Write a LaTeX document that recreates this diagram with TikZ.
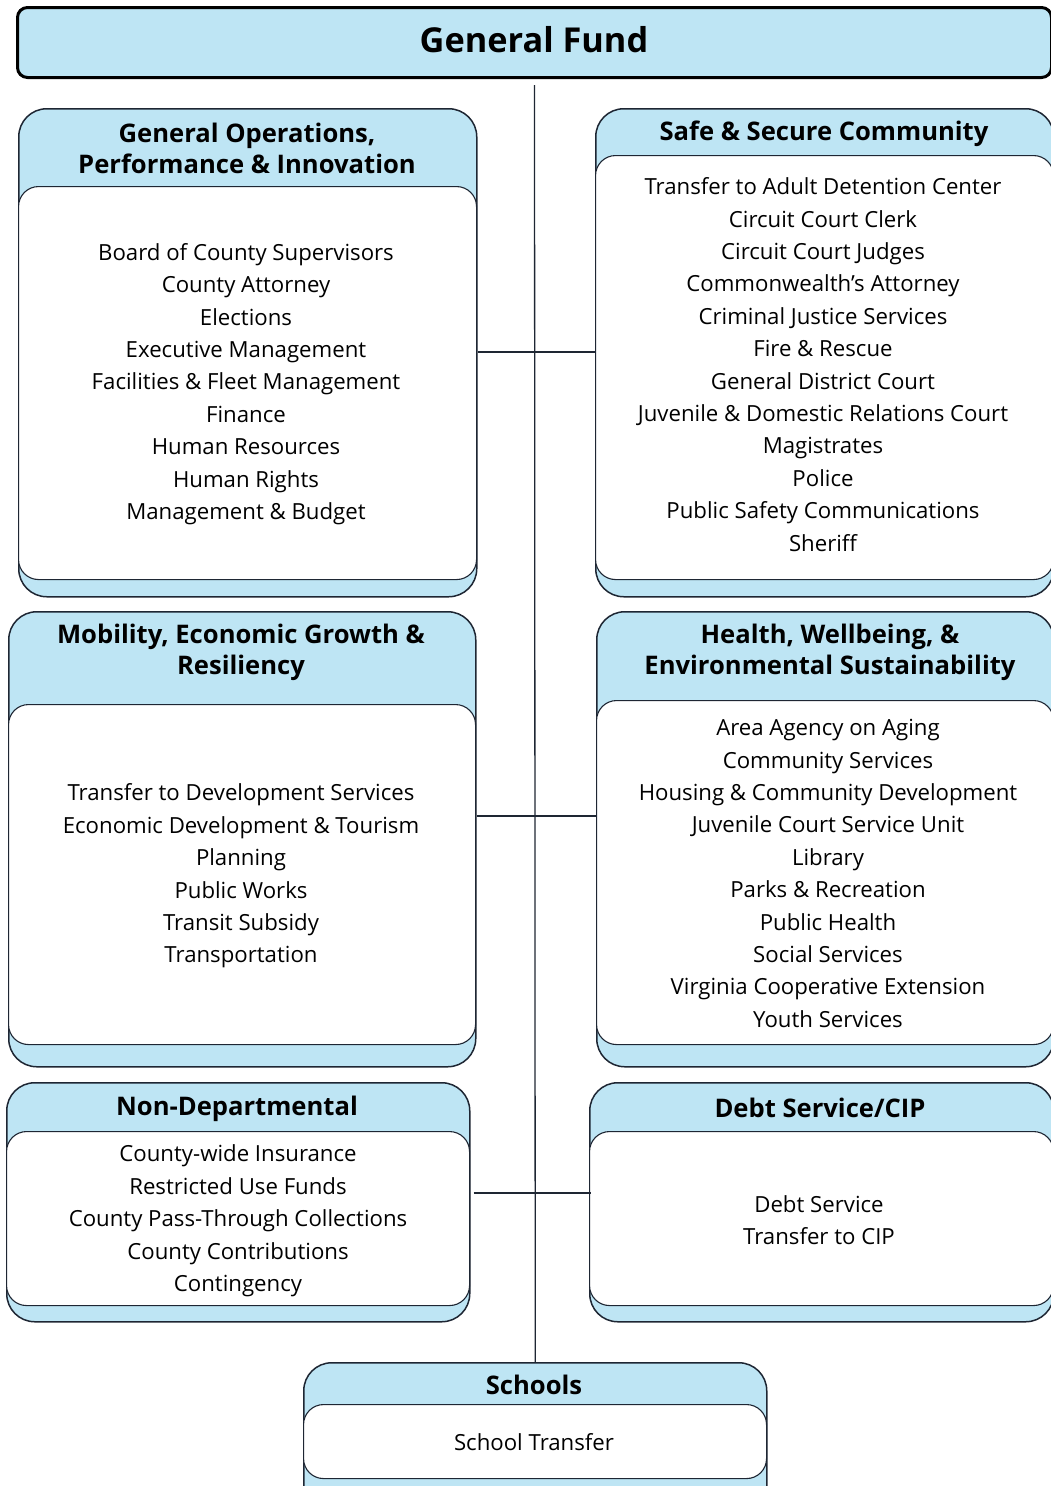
\documentclass[tikz,border=0pt]{standalone}
\usepackage{fontspec}
\setmainfont{Open Sans}
\definecolor{boxblue}{HTML}{BEE5F4}
\definecolor{linec}{HTML}{1E2633}
\tikzset{
  outerbox/.style={draw=linec, line width=1.5pt, fill=boxblue, rounded corners=28pt, inner sep=0pt, anchor=north west},
  innerbox/.style={draw=linec, line width=1.1pt, fill=white, rounded corners=20pt, inner sep=0pt, anchor=north west},
  headtxt/.style={align=center, inner sep=0pt, font=\fontsize{25.6}{30.8}\selectfont\bfseries},
  bodytxt/.style={align=center, inner sep=0pt, font=\fontsize{22.2}{32.4}\selectfont},
  conn/.style={draw=linec, line width=1.3pt}
}
\begin{document}
\begin{tikzpicture}[x=1pt,y=1pt]
\useasboundingbox (0,0) rectangle (1051,-1486);
\clip (0,0) rectangle (1051,-1486);
\coordinate (vtop) at (534.5,-85);
% General Fund
\node[draw=black, line width=3pt, fill=boxblue, rounded corners=10pt, anchor=north west, minimum width=1034, minimum height=70, inner sep=0pt] (gf) at (16,-6) {};
\node[inner sep=0pt, font=\fontsize{34.3}{40}\selectfont\bfseries] (gft) at (534,-40) {General Fund};
% Box 1
\node[outerbox, minimum width=458, minimum height=488] (b1) at (18,-108) {};
\node[innerbox, minimum width=458, minimum height=393] (b1i) at (18,-186) {};
\node[headtxt] (b1h) at (247,-148.5) {General Operations,\\Performance \& Innovation};
\node[bodytxt] (b1b) at (246,-384) {Board of County Supervisors\\County Attorney\\Elections\\Executive Management\\Facilities \& Fleet Management\\Finance\\Human Resources\\Human Rights\\Management \& Budget};
% Box 2
\node[outerbox, minimum width=458, minimum height=488] (b2) at (595,-108) {};
\node[innerbox, minimum width=458, minimum height=424] (b2i) at (595,-155) {};
\node[headtxt] (b2h) at (824,-133.5) {Safe \& Secure Community};
\node[bodytxt] (b2b) at (823,-364.5) {Transfer to Adult Detention Center\\Circuit Court Clerk\\Circuit Court Judges\\Commonwealth’s Attorney\\Criminal Justice Services\\Fire \& Rescue\\General District Court\\Juvenile \& Domestic Relations Court\\Magistrates\\Police\\Public Safety Communications\\Sheriff};
% Box 3
\node[outerbox, minimum width=467, minimum height=455] (b3) at (8,-611) {};
\node[innerbox, minimum width=467, minimum height=340] (b3i) at (8,-704) {};
\node[headtxt] (b3h) at (241,-652.5) {Mobility, Economic Growth \&\\Resiliency};
\node[bodytxt] (b3b) at (241,-876) {Transfer to Development Services\\Economic Development \& Tourism\\Planning\\Public Works\\Transit Subsidy\\Transportation};
% Box 4
\node[outerbox, minimum width=457, minimum height=455] (b4) at (596,-611) {};
\node[innerbox, minimum width=457, minimum height=344] (b4i) at (596,-700) {};
\node[headtxt] (b4h) at (830,-652.5) {Health, Wellbeing, \&\\Environmental Sustainability};
\node[bodytxt] (b4b) at (828,-873.5) {Area Agency on Aging\\Community Services\\Housing \& Community Development\\Juvenile Court Service Unit\\Library\\Parks \& Recreation\\Public Health\\Social Services\\Virginia Cooperative Extension\\Youth Services};
% Box 5
\node[outerbox, minimum width=463, minimum height=239] (b5) at (6,-1082) {};
\node[innerbox, minimum width=463, minimum height=174] (b5i) at (6,-1131) {};
\node[headtxt] (b5h) at (237,-1108.5) {Non-Departmental};
\node[bodytxt] (b5b) at (238,-1221) {County-wide Insurance\\Restricted Use Funds\\County Pass-Through Collections\\County Contributions\\Contingency};
% Box 6
\node[outerbox, minimum width=464, minimum height=239] (b6) at (589,-1082) {};
\node[innerbox, minimum width=464, minimum height=174] (b6i) at (589,-1131) {};
\node[headtxt] (b6h) at (820,-1107.5) {Debt Service/CIP};
\node[bodytxt] (b6b) at (819,-1220) {Debt Service\\Transfer to CIP};
% Box 7
\node[outerbox, minimum width=463, minimum height=160] (b7) at (303,-1362) {};
\node[innerbox, minimum width=463, minimum height=74] (b7i) at (303,-1404) {};
\node[headtxt] (b7h) at (534,-1385) {Schools};
\node[bodytxt] (b7b) at (534,-1442) {School Transfer};
% connectors
\draw[conn] (vtop) -- (b7.north);
\draw[conn] (b1.east |- 0,-352) -- (b2.west |- 0,-352);
\draw[conn] (b3.east |- 0,-816) -- (b4.west |- 0,-816);
\draw[conn] ([xshift=3pt]b5.east |- 0,-1193) -- ([xshift=2pt]b6.west |- 0,-1193);
\end{tikzpicture}
\end{document}
